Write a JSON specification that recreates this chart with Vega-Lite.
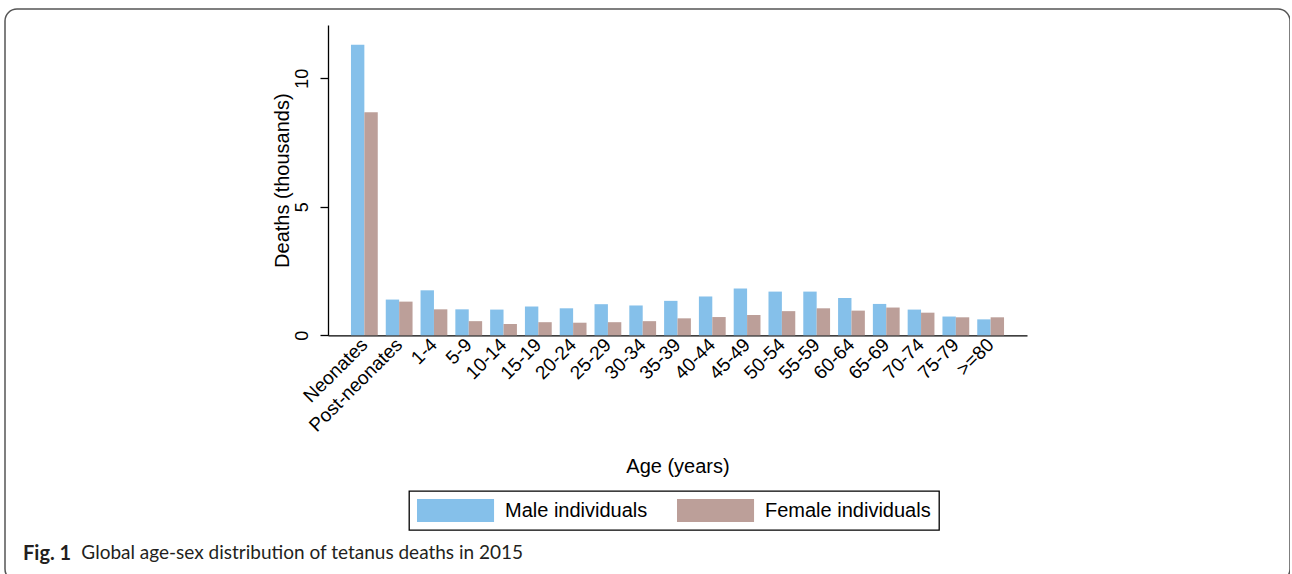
{
  "$schema": "https://vega.github.io/schema/vega-lite/v6.json",
  "width": 1285,
  "height": 572,
  "padding": {"left": 5, "top": 9, "right": 0, "bottom": 0},
  "background": "white",
  "config": {
    "view": {"stroke": "#555555", "strokeWidth": 1.5, "cornerRadius": 12},
    "font": "Liberation Sans",
    "legend": {"strokeWidth": 1.3}
  },
  "title": {
    "text": "Fig. 1",
    "subtitle": "\u200b\u00a0\u00a0\u00a0\u00a0\u00a0\u00a0\u00a0\u00a0\u00a0\u00a0\u00a0\u00a0Global age-sex distribution of tetanus deaths in 2015",
    "orient": "bottom",
    "anchor": "start",
    "frame": "group",
    "offset": -37,
    "dx": 18,
    "font": "Lato",
    "fontSize": 20,
    "fontWeight": "bold",
    "color": "#231f20",
    "subtitleFont": "Lato",
    "subtitleFontSize": 19,
    "subtitleFontWeight": "normal",
    "subtitleColor": "#231f20",
    "subtitlePadding": -20
  },
  "data": {
    "values": [
      {"age": "Neonates", "sex": "Male individuals", "deaths": 11.30},
      {"age": "Neonates", "sex": "Female individuals", "deaths": 8.68},
      {"age": "Post-neonates", "sex": "Male individuals", "deaths": 1.39},
      {"age": "Post-neonates", "sex": "Female individuals", "deaths": 1.31},
      {"age": "1-4", "sex": "Male individuals", "deaths": 1.75},
      {"age": "1-4", "sex": "Female individuals", "deaths": 1.01},
      {"age": "5-9", "sex": "Male individuals", "deaths": 1.01},
      {"age": "5-9", "sex": "Female individuals", "deaths": 0.55},
      {"age": "10-14", "sex": "Male individuals", "deaths": 1.00},
      {"age": "10-14", "sex": "Female individuals", "deaths": 0.44},
      {"age": "15-19", "sex": "Male individuals", "deaths": 1.12},
      {"age": "15-19", "sex": "Female individuals", "deaths": 0.51},
      {"age": "20-24", "sex": "Male individuals", "deaths": 1.05},
      {"age": "20-24", "sex": "Female individuals", "deaths": 0.49},
      {"age": "25-29", "sex": "Male individuals", "deaths": 1.21},
      {"age": "25-29", "sex": "Female individuals", "deaths": 0.51},
      {"age": "30-34", "sex": "Male individuals", "deaths": 1.16},
      {"age": "30-34", "sex": "Female individuals", "deaths": 0.55},
      {"age": "35-39", "sex": "Male individuals", "deaths": 1.34},
      {"age": "35-39", "sex": "Female individuals", "deaths": 0.66},
      {"age": "40-44", "sex": "Male individuals", "deaths": 1.51},
      {"age": "40-44", "sex": "Female individuals", "deaths": 0.71},
      {"age": "45-49", "sex": "Male individuals", "deaths": 1.82},
      {"age": "45-49", "sex": "Female individuals", "deaths": 0.79},
      {"age": "50-54", "sex": "Male individuals", "deaths": 1.70},
      {"age": "50-54", "sex": "Female individuals", "deaths": 0.94},
      {"age": "55-59", "sex": "Male individuals", "deaths": 1.70},
      {"age": "55-59", "sex": "Female individuals", "deaths": 1.05},
      {"age": "60-64", "sex": "Male individuals", "deaths": 1.45},
      {"age": "60-64", "sex": "Female individuals", "deaths": 0.96},
      {"age": "65-69", "sex": "Male individuals", "deaths": 1.22},
      {"age": "65-69", "sex": "Female individuals", "deaths": 1.08},
      {"age": "70-74", "sex": "Male individuals", "deaths": 1.00},
      {"age": "70-74", "sex": "Female individuals", "deaths": 0.88},
      {"age": "75-79", "sex": "Male individuals", "deaths": 0.73},
      {"age": "75-79", "sex": "Female individuals", "deaths": 0.70},
      {"age": ">=80", "sex": "Male individuals", "deaths": 0.62},
      {"age": ">=80", "sex": "Female individuals", "deaths": 0.70}
    ]
  },
  "mark": {"type": "bar"},
  "encoding": {
    "x": {
      "field": "age",
      "type": "nominal",
      "sort": null,
      "scale": {"range": [323, 1022], "paddingInner": 0.23, "paddingOuter": 0.66},
      "axis": {
        "title": "Age (years)",
        "offset": -245.7,
        "ticks": false,
        "domainColor": "#000000",
        "domainWidth": 1.3,
        "labelAngle": -45,
        "labelAlign": "right",
        "labelBaseline": "middle",
        "labelPadding": 6,
        "labelFontSize": 19,
        "labelColor": "#000000",
        "labelFont": "Liberation Sans",
        "titleFont": "Liberation Sans",
        "titleFontSize": 20,
        "titleFontWeight": "normal",
        "titleColor": "#000000",
        "titleY": 131,
        "titleBaseline": "middle"
      }
    },
    "xOffset": {
      "field": "sex",
      "type": "nominal",
      "scale": {"domain": ["Male individuals", "Female individuals"], "paddingInner": 0, "paddingOuter": 0}
    },
    "y": {
      "field": "deaths",
      "type": "quantitative",
      "scale": {"domain": [0, 12.07], "range": [326.3, 16], "nice": false, "zero": true},
      "axis": {
        "title": "Deaths (thousands)",
        "offset": -323,
        "values": [0, 5, 10],
        "grid": false,
        "tickSize": 8,
        "tickColor": "#000000",
        "tickWidth": 1.3,
        "domainColor": "#000000",
        "domainWidth": 1.3,
        "labelAngle": -90,
        "labelAlign": "center",
        "labelBaseline": "bottom",
        "labelPadding": 9,
        "labelFontSize": 18,
        "labelColor": "#000000",
        "labelFont": "Liberation Sans",
        "titleFont": "Liberation Sans",
        "titleFontSize": 20,
        "titleFontWeight": "normal",
        "titleColor": "#000000",
        "titleX": -46,
        "titleBaseline": "middle"
      }
    },
    "color": {
      "field": "sex",
      "type": "nominal",
      "scale": {"domain": ["Male individuals", "Female individuals"], "range": ["#85c0ea", "#bc9f99"]},
      "legend": {
        "title": null,
        "orient": "none",
        "legendX": 404,
        "legendY": 482,
        "direction": "horizontal",
        "columns": 2,
        "symbolType": "M-1,-1H5.7V1H-1Z",
        "symbolSize": 529,
        "symbolStrokeWidth": 0,
        "symbolOpacity": 1,
        "labelFont": "Liberation Sans",
        "labelFontSize": 20,
        "labelColor": "#000000",
        "labelOffset": 65,
        "labelLimit": 0,
        "columnPadding": 29,
        "padding": 8,
        "strokeColor": "#000000"
      }
    }
  }
}
